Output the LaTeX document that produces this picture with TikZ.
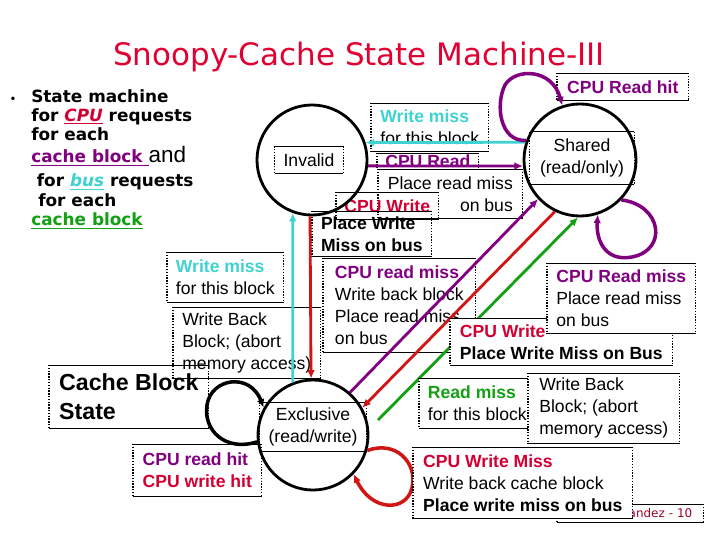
\documentclass[tikz,border=0pt]{standalone}
\usepackage{fontspec}
\setmainfont{Liberation Sans}
\newfontfamily\comicfont{DejaVu Sans}
\usetikzlibrary{arrows.meta}

\definecolor{ttlred}{RGB}{225,0,50}
\definecolor{cpured}{RGB}{210,0,50}
\definecolor{cpupurple}{RGB}{128,0,128}
\definecolor{buscyan}{RGB}{64,210,210}
\definecolor{blkgreen}{RGB}{20,160,20}
\definecolor{arrred}{RGB}{210,20,20}
\definecolor{footred}{RGB}{160,0,40}

\tikzset{
  txt/.style={font=\fontsize{12.5}{15.6}\selectfont},
  bftxt/.style={font=\bfseries\fontsize{12.5}{15.6}\selectfont},
  boxtb/.style={draw=black, line width=0.7pt},
  boxside/.style={draw=black, densely dotted, line width=1pt},
  tbox/.style={txt, align=left, inner sep=0pt, anchor=north west,
    append after command={
      (\tikzlastnode.north west) edge[boxtb] (\tikzlastnode.north east)
      (\tikzlastnode.south west) edge[boxtb] (\tikzlastnode.south east)
      (\tikzlastnode.north west) edge[boxside] (\tikzlastnode.south west)
      (\tikzlastnode.north east) edge[boxside] (\tikzlastnode.south east)}},
  stnode/.style={circle, draw, line width=2pt, inner sep=0pt, minimum size=2.75cm},
  conn/.style={line width=2pt, ->},
  selfarc/.style={line width=2.5pt, ->}
}

\begin{document}
\begin{tikzpicture}
    [x=0.025cm, y=-0.025cm, >={Latex[length=6pt,width=5.5pt]}]
\path [use as bounding box, fill=white] (0,0) rectangle (720,540);

% title and bullet
\node [anchor=base, text=ttlred, font=\comicfont\fontsize{22}{26}\selectfont]
    (title) at (359,65) {Snoopy-Cache State Machine-III};
\node [font=\comicfont\bfseries\fontsize{7}{7}\selectfont] (bullet) at (13,100) {•};
\node [anchor=north west, align=left, inner sep=0pt,
    font=\comicfont\bfseries\fontsize{12}{13.8}\selectfont] (intro) at (31,89)
    {State machine\\
     for \textcolor{cpured}{\underline{\itshape CPU}} requests\\
     for each\\[1.8pt]
     \textcolor{cpupurple}{\underline{cache block\ }}{\rmfamily\mdseries\fontsize{16}{16}\selectfont and}\\[3.3pt]
     \hspace{4pt}for \textcolor{buscyan}{\underline{\itshape bus}} requests\\
     \hspace{5pt}for each\\
     \textcolor{blkgreen}{\underline{cache block}}};

% text boxes
\node [tbox, minimum width=3.275cm, minimum height=0.675cm] (hitbox) at (557,73)
    {\textbf{\textcolor{cpupurple}{CPU Read hit}}};
\node [tbox, minimum width=2.925cm, minimum height=1.2cm] (wmissr) at (371,103)
    {\textbf{\textcolor{buscyan}{Write miss}}\\for this block};
\node [tbox, minimum width=2.525cm, minimum height=0.4cm] (cpurd) at (377,153)
    {\textbf{\textcolor{cpupurple}{CPU Read}}};
\node [tbox, align=right, minimum width=3.6cm, minimum height=1.225cm] (plrd) at (378,169)
    {Place read miss\\on bus};
\node [tbox, minimum width=2.55cm, minimum height=0.675cm] (cpuwr) at (336,192)
    {\textbf{\textcolor{cpured}{CPU Write}}};
\node [tbox, bftxt, minimum width=2.975cm, minimum height=1.125cm] (plwr) at (312,211)
    {Place Write\\Miss on bus};
\node [tbox, minimum width=2.9cm, minimum height=1.25cm] (wmissl) at (167,252)
    {\textbf{\textcolor{buscyan}{Write miss}}\\for this block};
\node [tbox, minimum width=3.675cm, minimum height=1.775cm] (wbackl) at (173,307)
    {Write Back\\Block; (abort\\memory access)};
\node [tbox, minimum width=3.975cm, minimum height=1.575cm,
    font=\bfseries\fontsize{16.5}{20.6}\selectfont] (cbs) at (49,365) {Cache Block\\State};
\node [tbox, bftxt, minimum width=3.2cm, minimum height=1.3cm] (hits) at (133,444)
    {\textcolor{cpupurple}{CPU read hit}\\\textcolor{cpured}{CPU write hit}};
\node [tbox, minimum width=3.8cm, minimum height=2.35cm] (rdmissc) at (323,258)
    {\textbf{\textcolor{cpupurple}{CPU read miss}}\\Write back block\\Place read miss\\on bus};

% states
\node [stnode] (invalid) at (312,160) {};
\node [stnode, minimum size=2.8cm] (shared) at (580,160) {};
\node [stnode] (excl) at (313,435) {};
\node [tbox, anchor=center, align=center, minimum width=1.7cm, minimum height=0.675cm]
    (invlbl) at (309,160) {Invalid};
\node [tbox, anchor=center, align=center, minimum width=2.6cm, minimum height=1.3cm]
    (shlbl) at (582,158) {Shared\\(read/only)};
\node [tbox, anchor=center, align=center, minimum width=2.65cm, minimum height=1.225cm]
    (exlbl) at (313,427) {Exclusive\\(read/write)};

% transitions
\draw [conn, buscyan] (shared.162) -- (invalid.18);
\draw [conn, cpupurple] (invalid.-6) -- (shared.186);
\draw [conn, arrred] (invalid.-92) -- (excl.92);
\draw [conn, buscyan] (excl.111) -- (invalid.-110);
\draw [conn, cpupurple] (excl.49) -- (shared.223);
\draw [conn, arrred] (shared.244) -- (excl.29);
\coordinate (gstart) at (378,420);
\draw [conn, blkgreen] (gstart) -- (shared.268);

% self loops
\draw [selfarc, cpupurple] (shared.160) .. controls (500,142) and (495,105) .. (505,85)
    .. controls (515,68) and (552,68) .. (shared.108);
\draw [selfarc, cpupurple] (shared.-44) .. controls (662,205) and (668,250) .. (632,257)
    .. controls (605,262) and (596,240) .. (shared.-72);
\draw [selfarc, black] (excl.187) .. controls (225,452) and (203,430) .. (207,405)
    .. controls (211,378) and (250,372) .. (excl.151);
\draw [selfarc, arrred] (excl.-16) .. controls (395,440) and (418,462) .. (412,488)
    .. controls (406,512) and (372,512) .. (excl.-44);

% boxes lying over the lines
\node [tbox, fill=white, minimum width=5.55cm, minimum height=1.175cm] (wrmissr) at (450,318)
    {\textbf{\textcolor{cpured}{CPU Write}}\\\textbf{Place Write Miss on Bus}};
\node [tbox, fill=white, minimum width=3.7cm, minimum height=1.75cm] (rdmissr) at (547,263)
    {\textbf{\textcolor{cpupurple}{CPU Read miss}}\\Place read miss\\on bus};
\node [tbox, fill=white, minimum width=2.9cm, minimum height=1.25cm] (rdmissg) at (419,378)
    {\textbf{\textcolor{blkgreen}{Read miss}}\\for this block};
\node [tbox, fill=white, minimum width=3.775cm, minimum height=1.75cm] (wbackr) at (528,373)
    {Write Back\\Block; (abort\\memory access)};
\node [tbox, fill=white, align=right, text width=3.1cm, inner xsep=0.275cm, minimum height=0.45cm,
    text=footred, font=\comicfont\fontsize{8.5}{10}\selectfont] (foot) at (557,504) {nandez - 10};
\node [tbox, fill=white, minimum width=5.475cm, minimum height=1.775cm] (wrmissc) at (413,447)
    {\textbf{\textcolor{cpured}{CPU Write Miss}}\\Write back cache block\\\textbf{Place write miss on bus}};
\end{tikzpicture}
\end{document}
